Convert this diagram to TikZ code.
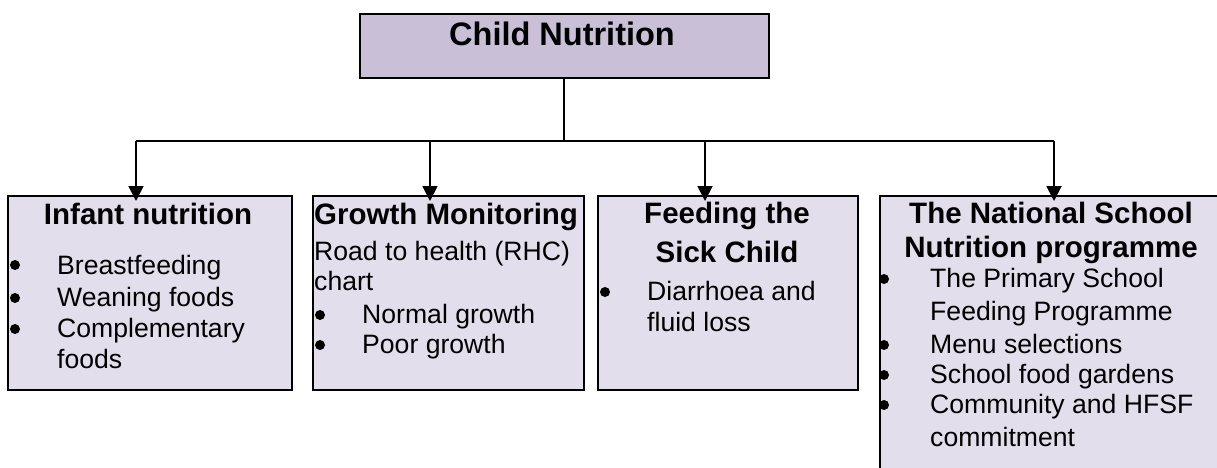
\documentclass[tikz,border=0pt]{standalone}
\usepackage{fontspec}
\setmainfont{Liberation Sans}
\usetikzlibrary{arrows.meta}
\definecolor{topfill}{RGB}{201,192,216}
\definecolor{boxfill}{RGB}{227,222,235}
\tikzset{
  x=1pt, y=-1pt,
  topbox/.style={draw=black, line width=1.6pt, fill=topfill, inner sep=0pt, anchor=north west},
  childbox/.style={draw=black, line width=1.6pt, fill=boxfill, inner sep=0pt, anchor=north west},
  conn/.style={draw=black, line width=1.8pt},
  arr/.style={conn, -{Triangle[width=15pt,length=15pt]}, shorten >=-6pt},
  ttl/.style={font=\fontsize{29.5}{34}\selectfont\bfseries, inner sep=0pt},
  bigttl/.style={font=\fontsize{32.5}{38}\selectfont\bfseries, inner sep=0pt},
  txt/.style={font=\fontsize{26.6}{31}\selectfont, inner sep=0pt, anchor=base west},
  bul/.style={circle, fill=black, draw=none, inner sep=0pt, minimum size=10pt},
}
\begin{document}
\begin{tikzpicture}
\useasboundingbox[fill=white] (0,0) rectangle (1217,467);
% boxes
\node[topbox, minimum width=409pt, minimum height=64pt] (top) at (359,13) {};
\node[childbox, minimum width=284pt, minimum height=194pt] (b1) at (7,195) {};
\node[childbox, minimum width=271pt, minimum height=194pt] (b2) at (312,195) {};
\node[childbox, minimum width=260pt, minimum height=194pt] (b3) at (597,195) {};
\node[childbox, minimum width=360pt, minimum height=300pt] (b4) at (879,195) {};
% connectors
\coordinate (j) at (564,141);
\coordinate (a1) at (136,141);
\coordinate (a2) at (430,141);
\coordinate (a3) at (705,141);
\coordinate (a4) at (1054,141);
\draw[conn] (top.south -| j) -- (j);
\draw[conn] (a1) -- (a4);
\draw[arr] (a1) -- (a1 |- b1.north);
\draw[arr] (a2) -- (a2 |- b2.north);
\draw[arr] (a3) -- (a3 |- b3.north);
\draw[arr] (a4) -- (a4 |- b4.north);
% top title
\node[bigttl, anchor=base] (tt) at (562,45) {Child Nutrition};
% box 1
\node[ttl, anchor=base] (t1) at (148,224) {Infant nutrition};
\node[bul] (p11) at (15,265) {};
\node[txt] (l11) at (57,274) {Breastfeeding};
\node[bul] (p12) at (15,298) {};
\node[txt] (l12) at (57,306) {Weaning foods};
\node[bul] (p13) at (15,329) {};
\node[txt] (l13) at (57,337) {Complementary};
\node[txt] (l14) at (57,368) {foods};
% box 2
\node[ttl, anchor=base west] (t2) at (314,224) {Growth Monitoring};
\node[txt] (l21) at (314,260) {Road to health (RHC)};
\node[txt] (l22) at (314,290) {chart};
\node[bul] (p21) at (320,315) {};
\node[txt] (l23) at (362,323) {Normal growth};
\node[bul] (p22) at (320,345) {};
\node[txt] (l24) at (362,353) {Poor growth};
% box 3
\node[ttl, anchor=base] (t31) at (727,223) {Feeding the};
\node[ttl, anchor=base] (t32) at (727,262) {Sick Child};
\node[bul] (p31) at (605,292) {};
\node[txt] (l31) at (647,300) {Diarrhoea and};
\node[txt] (l32) at (647,331) {fluid loss};
% box 4
\node[ttl, anchor=base] (t41) at (1051,223) {The National School};
\node[ttl, anchor=base] (t42) at (1051,257) {Nutrition programme};
\node[bul] (p41) at (884,279) {};
\node[txt] (l41) at (930,287) {The Primary School};
\node[txt] (l42) at (930,320) {Feeding Programme};
\node[bul] (p42) at (884,345) {};
\node[txt] (l43) at (930,353) {Menu selections};
\node[bul] (p43) at (884,375) {};
\node[txt] (l44) at (930,383) {School food gardens};
\node[bul] (p44) at (884,405) {};
\node[txt] (l45) at (930,413) {Community and HFSF};
\node[txt] (l46) at (930,446) {commitment};
\end{tikzpicture}
\end{document}
